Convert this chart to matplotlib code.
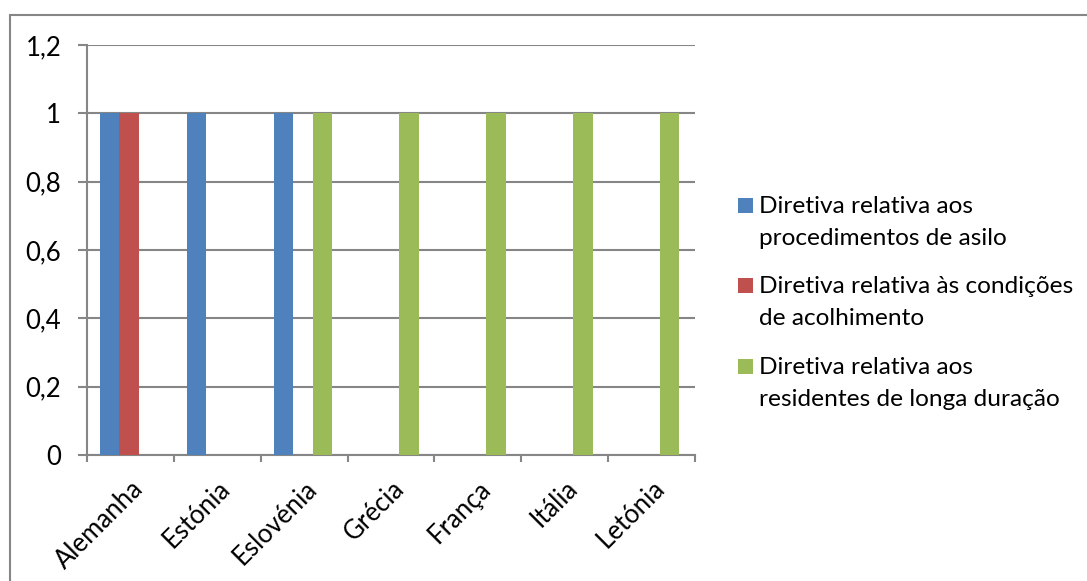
"""Clustered bar chart: transposition of EU directives by member state."""

import matplotlib

matplotlib.use("Agg")

import matplotlib.pyplot as plt
import numpy as np
from matplotlib.patches import Rectangle

COUNTRIES = ["Alemanha", "Estónia", "Eslovénia", "Grécia", "França", "Itália", "Letónia"]
SERIES_LABELS = [
    ["Diretiva relativa aos", "procedimentos de asilo"],
    ["Diretiva relativa às condições", "de acolhimento"],
    ["Diretiva relativa aos", "residentes de longa duração"],
]
ASYLUM_PROCEDURES = [1, 1, 1, 0, 0, 0, 0]
RECEPTION_CONDITIONS = [1, 0, 0, 0, 0, 0, 0]
LONG_TERM_RESIDENTS = [0, 0, 1, 1, 1, 1, 1]
Y_TICKS = [0, 0.2, 0.4, 0.6, 0.8, 1.0, 1.2]
Y_TICK_LABELS = ["0", "0,2", "0,4", "0,6", "0,8", "1", "1,2"]

COLORS = ["#4F81BD", "#C0504D", "#9BBB59"]
GRID_COLOR = "#868686"
WIDTH_PX, HEIGHT_PX = 1087, 581
TICK_FONT_SIZE = 18.5
LEGEND_FONT_SIZE = 17.6

plt.rcParams["font.family"] = ["Lato", "DejaVu Sans"]


def fx(pixel: float) -> float:
    """Figure fraction from a pixel column."""
    return pixel / WIDTH_PX


def fy(pixel: float) -> float:
    """Figure fraction from a pixel row (measured from the top)."""
    return 1 - pixel / HEIGHT_PX


def main() -> None:
    figure = plt.figure(figsize=(WIDTH_PX / 100, HEIGHT_PX / 100), dpi=100)
    axis = figure.add_axes([fx(87), fy(455), fx(695 - 87), (455 - 45) / HEIGHT_PX])

    positions = np.arange(len(COUNTRIES))
    bar_width = 0.224
    series = [ASYLUM_PROCEDURES, RECEPTION_CONDITIONS, LONG_TERM_RESIDENTS]
    for index, (values, color) in enumerate(zip(series, COLORS)):
        axis.bar(
            positions + (index - 1) * bar_width - 0.015,
            values,
            bar_width,
            color=color,
            zorder=3,
        )

    axis.set_xlim(-0.5, len(COUNTRIES) - 0.5)
    axis.set_ylim(0, 1.2)
    axis.set_yticks(Y_TICKS)
    axis.set_yticklabels(Y_TICK_LABELS, fontsize=TICK_FONT_SIZE)
    axis.yaxis.grid(True, color=GRID_COLOR, linewidth=1.5, zorder=0)
    axis.tick_params(axis="y", length=6.5, width=1.5, color=GRID_COLOR, pad=12)

    axis.set_xticks(positions)
    axis.set_xticklabels(
        COUNTRIES,
        fontsize=TICK_FONT_SIZE,
        rotation=45,
        ha="right",
        va="top",
        rotation_mode="anchor",
    )
    axis.tick_params(axis="x", length=0, pad=15)
    axis.set_xticks(np.arange(len(COUNTRIES) + 1) - 0.5, minor=True)
    axis.tick_params(axis="x", which="minor", length=5, width=1.5, color=GRID_COLOR)

    for side in ["top", "right"]:
        axis.spines[side].set_visible(False)
    for side in ["left", "bottom"]:
        axis.spines[side].set_color(GRID_COLOR)
        axis.spines[side].set_linewidth(1.5)

    # Legend drawn by hand so the key square sits beside the first line of each entry.
    entry_tops = [198, 278, 359]
    for lines, color, top in zip(SERIES_LABELS, COLORS, entry_tops):
        figure.patches.append(
            Rectangle(
                (fx(738), fy(top + 15)),
                fx(15),
                15 / HEIGHT_PX,
                transform=figure.transFigure,
                facecolor=color,
                edgecolor="none",
            )
        )
        for line_index, line in enumerate(lines):
            figure.text(
                fx(759),
                fy(top + 15 + line_index * 32),
                line,
                fontsize=LEGEND_FONT_SIZE,
                va="baseline",
                ha="left",
            )

    figure.patches.append(
        Rectangle(
            (fx(10), -0.1),
            1.1,
            1.1 - 15 / HEIGHT_PX,
            transform=figure.transFigure,
            fill=False,
            edgecolor=GRID_COLOR,
            linewidth=1.5,
        )
    )

    figure.savefig("out.png", dpi=100)
    plt.close(figure)


if __name__ == "__main__":
    main()
